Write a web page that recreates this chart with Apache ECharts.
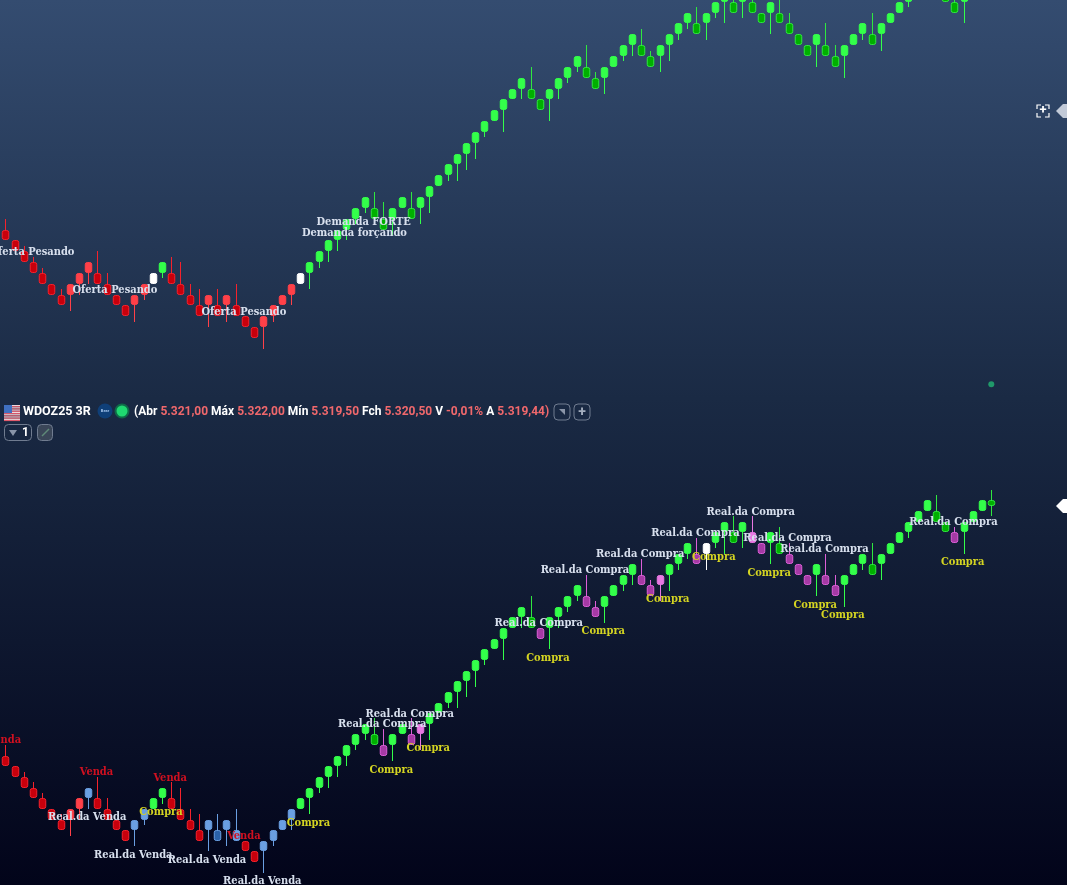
<!DOCTYPE html>
<html>
<head>
<meta charset="utf-8">
<title>WDOZ25 3R</title>
<style>
  html, body { margin: 0; padding: 0; background: #0a1228; }
  #chart { width: 1067px; height: 885px; }
</style>
<script src="https://cdn.jsdelivr.net/npm/echarts@6/dist/echarts.min.js"></script>
</head>
<body>
<div id="chart"></div>
<script>
// renko bricks, same prices drawn in both panels
const opens = [5297,5296,5295,5294,5293,5292,5291,5291,5292,5293,5293,5292,5291,5290,5290,5291,5292,5293,5293,5292,5291,5290,5290,5290,5290,5290,5289,5288,5288,5289,5290,5291,5292,5293,5294,5295,5296,5297,5298,5299,5299,5298,5298,5299,5299,5299,5300,5301,5302,5303,5304,5305,5306,5307,5308,5309,5310,5310,5309,5309,5310,5311,5312,5312,5311,5311,5312,5313,5314,5314,5313,5313,5314,5315,5316,5316,5316,5317,5318,5318,5318,5318,5317,5317,5317,5316,5315,5314,5314,5314,5313,5313,5314,5315,5315,5315,5316,5317,5318,5319,5320,5320,5319,5318,5318,5319,5320,5321];
const closes = [5296,5295,5294,5293,5292,5291,5290,5292,5293,5294,5292,5291,5290,5289,5291,5292,5293,5294,5292,5291,5290,5289,5291,5289,5291,5289,5288,5287,5289,5290,5291,5292,5293,5294,5295,5296,5297,5298,5299,5300,5298,5297,5299,5300,5298,5300,5301,5302,5303,5304,5305,5306,5307,5308,5309,5310,5311,5309,5308,5310,5311,5312,5313,5311,5310,5312,5313,5314,5315,5313,5312,5314,5315,5316,5317,5315,5317,5318,5319,5317,5319,5317,5316,5318,5316,5315,5314,5313,5315,5313,5312,5314,5315,5316,5314,5316,5317,5318,5319,5320,5321,5319,5318,5317,5319,5320,5321,5320.5];
const highs = [5298,5296,5295.5,5294.5,5293.5,5292,5291.5,5292,5293,5294,5295,5293,5291,5290,5291,5292,5293,5294,5294.5,5294,5292,5291.5,5291,5291.5,5291,5292,5289,5288,5289,5290,5291,5292,5293,5294,5295,5296,5297,5298,5299,5300,5300.5,5299.5,5299,5300,5300.5,5300,5301,5302,5303,5304,5305,5306,5307,5308,5309,5310,5311,5312,5309,5310,5311,5312,5313,5314,5311.5,5312,5313,5314,5315,5315.5,5313.5,5314,5315,5316,5317,5317.5,5317,5318,5319,5319.5,5319,5319.5,5317,5318,5318.5,5317,5315,5314,5315,5316,5314,5314,5315,5316,5317,5316,5317,5318,5319,5320,5321,5321.5,5319,5318.5,5319,5320,5321,5322];
const lows = [5296,5295,5294,5293,5292,5291,5290,5289.5,5291,5292,5292,5291,5290,5289,5288.5,5290.5,5292,5292.5,5292,5291,5290,5289,5288,5289,5288.5,5289,5288,5287,5286,5288.5,5290,5290,5292,5291.5,5293.5,5294,5295,5296,5297.5,5298.5,5298,5297,5296.5,5299,5298,5297.5,5298.5,5301,5301.5,5301.5,5302.5,5303.5,5305.5,5307,5306,5309,5309,5309,5308,5307,5309,5310.5,5311.5,5311,5310,5309.5,5312,5312.5,5313,5313,5312,5311.5,5312.5,5314.5,5315.5,5315,5314.5,5316.5,5316,5317,5316.5,5317,5316,5315,5316,5315,5314,5313,5312,5313,5312,5311,5314,5314.5,5314,5313.5,5316,5317,5317.5,5319,5320,5319,5318,5317,5316,5319,5320,5319.5];

// upper panel colouring and texts (brick numbers), the rest is plain green
const topRedDark = [0,1,2,3,4,5,6,10,11,12,13,18,19,20,21,23,25,26,27];
const topRedBright = [7,8,9,14,15,22,24,28,29,30,31];
const topWhite = [16,32];
const topGreenDark = [40,41,44,57,58,63,64,69,70,75,79,81,82,84,85,86,87,89,90,94,101,102,103,107];
const ofertaPesando = [3,12,26];
const demandaForte = [39];
const demandaForcando = [38];
const dotPrice = 5282.75;

// lower panel
const lowRedDark = [0,1,2,3,4,5,6,10,11,12,13,18,19,20,21,26,27];
const lowRedBright = [7,8];
const lowBlue = [9,14,15,22,24,25,28,29,30,31];
const lowBlueDark = [23];
const lowPurple = [41,44,58,63,64,69,70,75,82,85,86,87,89,90,103];
const lowPink = [45,71,81];
const lowWhite = [76];
const lowGreenDark = [40,57,79,84,94,101,102,107];
const venda = [0,10,18,26];
const realVenda = [9,14,22,28];
const compra = [17,33,42,46,59,65,72,77,83,88,91,104];
const realCompra = [41,44,58,63,69,75,81,85,89,103];

// header
const headerPairs = [['Abr', '5.321,00'], ['Máx', '5.322,00'], ['Mín', '5.319,50'], ['Fch', '5.320,50'], ['V', '-0,01%'], ['A', '5.319,44']];

const palette = {
  green: { fill: '#33ff4a', line: '#33ff4a' },
  greenDark: { fill: '#00b000', line: '#2fe83f' },
  redDark: { fill: '#c8000c', line: '#f5222c' },
  redBright: { fill: '#ff4048', line: '#ff4048' },
  white: { fill: '#ffffff', line: '#ffffff' },
  blue: { fill: '#6a9fe2', line: '#6a9fe2' },
  blueDark: { fill: '#2b62a8', line: '#6a9fe2' },
  purple: { fill: '#a53aa5', line: '#dd5fd8' },
  pink: { fill: '#e878e2', line: '#e878e2' }
};

const topKinds = { redDark: topRedDark, redBright: topRedBright, white: topWhite, greenDark: topGreenDark };
const lowKinds = { redDark: lowRedDark, redBright: lowRedBright, blue: lowBlue, blueDark: lowBlueDark, purple: lowPurple, pink: lowPink, white: lowWhite, greenDark: lowGreenDark };

function kindOf(kinds, i) {
  for (const k in kinds) {
    if (kinds[k].includes(i)) return k;
  }
  return 'green';
}

const bricks = opens.map((o, i) => [i, o, closes[i], lows[i], highs[i]]);

// candlestick has no rounded corners, so the bricks are a custom series
function brickRenderer(kinds) {
  return function (params, api) {
    const i = api.value(0);
    const c = palette[kindOf(kinds, i)];
    const x = Math.round(api.coord([i, api.value(1)])[0]);
    const yA = api.coord([i, api.value(1)])[1];
    const yB = api.coord([i, api.value(2)])[1];
    const top = Math.round(Math.min(yA, yB));
    const bottom = Math.round(Math.max(yA, yB));
    const hi = Math.round(api.coord([i, api.value(4)])[1]);
    const lo = Math.round(api.coord([i, api.value(3)])[1]);
    return {
      type: 'group',
      children: [
        { type: 'line', shape: { x1: x + 0.5, y1: hi, x2: x + 0.5, y2: lo }, style: { stroke: c.line, lineWidth: 1 } },
        { type: 'rect', shape: { x: x - 2.75, y: top + 0.5, width: 6.5, height: bottom - top - 1, r: 2 }, style: { fill: c.fill, stroke: c.line, lineWidth: 1 } }
      ]
    };
  };
}

function labelRows(list, text, color, side) {
  return list.map(i => ({ value: [i, side === 'above' ? highs[i] : lows[i]], text, color, side }));
}

function labelSeries(rows, gridIndex) {
  return {
    type: 'custom',
    xAxisIndex: gridIndex,
    yAxisIndex: gridIndex,
    clip: false,
    z: 5,
    silent: true,
    data: rows,
    renderItem: function (params, api) {
      const row = rows[params.dataIndex];
      const p = api.coord([api.value(0), api.value(1)]);
      return {
        type: 'text',
        style: {
          text: row.text,
          x: p[0] - 1,
          y: p[1] + (row.side === 'above' ? -4.5 : 8.7),
          fill: row.color,
          align: 'center',
          verticalAlign: 'middle',
          font: 'bold 11px "DejaVu Serif Condensed", "DejaVu Serif"'
        }
      };
    }
  };
}

const topLabels = [].concat(
  labelRows(ofertaPesando, 'Oferta Pesando', '#d8e0ee', 'above'),
  labelRows(demandaForte, 'Demanda FORTE', '#d8e0ee', 'below'),
  labelRows(demandaForcando, 'Demanda forçando', '#d8e0ee', 'below')
);
const lowLabels = [].concat(
  labelRows(venda, 'Venda', '#d01020', 'above'),
  labelRows(realVenda, 'Real.da Venda', '#d8e0ee', 'below'),
  labelRows(compra, 'Compra', '#d4d422', 'below'),
  labelRows(realCompra, 'Real.da Compra', '#d8e0ee', 'above')
);

const headerRich = { w: { fill: '#ffffff' }, r: { fill: '#f0686c' } };
const headerText = '{w|(}' + headerPairs.map(p => '{w|' + p[0] + ' }{r|' + p[1] + ' }').join('').replace(/ }$/, '}') + '{r|)}';

const flagStripes = [];
for (let s = 0; s < 7; s++) {
  flagStripes.push({ type: 'rect', shape: { x: 4, y: 405 + s * 2.3, width: 16, height: 1.15 }, style: { fill: '#f0d8dc' } });
  flagStripes.push({ type: 'rect', shape: { x: 4, y: 406.15 + s * 2.3, width: 16, height: 1.15 }, style: { fill: '#e05a6c' } });
}

const chrome = [].concat(flagStripes, [
  { type: 'rect', shape: { x: 4, y: 405, width: 8, height: 8 }, style: { fill: '#3f6fc0' } },
  { type: 'text', style: { x: 23, y: 411.5, text: 'WDOZ25 3R', fill: '#ffffff', font: 'bold 12.5px Roboto', verticalAlign: 'middle' } },
  { type: 'circle', shape: { cx: 105, cy: 411, r: 7.5 }, style: { fill: '#0f3f78' } },
  { type: 'text', style: { x: 105, y: 411, text: 'Bear', fill: '#9fc0ea', font: 'bold 4px Roboto', align: 'center', verticalAlign: 'middle' } },
  { type: 'circle', shape: { cx: 122, cy: 411, r: 6.5 }, style: { fill: '#1fd870', stroke: '#0f6a48', lineWidth: 2 } },
  { type: 'text', style: { x: 134, y: 411.5, text: headerText, rich: headerRich, font: 'bold 12px Roboto', verticalAlign: 'middle' } },
  { type: 'rect', shape: { x: 554, y: 404, width: 16, height: 16, r: 4 }, style: { fill: 'none', stroke: '#707c90', lineWidth: 1 } },
  { type: 'polygon', shape: { points: [[559, 409], [565, 409], [565, 415]] }, style: { fill: '#8a95a8' } },
  { type: 'rect', shape: { x: 574, y: 404, width: 16, height: 16, r: 4 }, style: { fill: 'none', stroke: '#707c90', lineWidth: 1 } },
  { type: 'text', style: { x: 582, y: 412, text: '+', fill: '#a4aebe', font: 'bold 14px Roboto', align: 'center', verticalAlign: 'middle' } },
  { type: 'rect', shape: { x: 4.5, y: 424.5, width: 27, height: 16, r: 4 }, style: { fill: 'none', stroke: '#707c90', lineWidth: 1 } },
  { type: 'polygon', shape: { points: [[9, 430], [17, 430], [13, 436]] }, style: { fill: '#8a95a8' } },
  { type: 'text', style: { x: 22, y: 433, text: '1', fill: '#ffffff', font: 'bold 12px Roboto', verticalAlign: 'middle' } },
  { type: 'rect', shape: { x: 37.5, y: 424.5, width: 15, height: 16, r: 4 }, style: { fill: '#3a4658', stroke: '#707c90', lineWidth: 1 } },
  { type: 'line', shape: { x1: 42, y1: 436, x2: 49, y2: 429 }, style: { stroke: '#5f8a78', lineWidth: 1.5 } },
  // focus icon and price tags on the right edge
  { type: 'polyline', shape: { points: [[1037, 109], [1037, 105], [1041, 105]] }, style: { stroke: '#ffffff', lineWidth: 1.2, fill: 'none' } },
  { type: 'polyline', shape: { points: [[1045, 105], [1049, 105], [1049, 109]] }, style: { stroke: '#ffffff', lineWidth: 1.2, fill: 'none' } },
  { type: 'polyline', shape: { points: [[1049, 113], [1049, 117], [1045, 117]] }, style: { stroke: '#ffffff', lineWidth: 1.2, fill: 'none' } },
  { type: 'polyline', shape: { points: [[1041, 117], [1037, 117], [1037, 113]] }, style: { stroke: '#ffffff', lineWidth: 1.2, fill: 'none' } },
  { type: 'text', style: { x: 1043, y: 111, text: '+', fill: '#ffffff', font: 'bold 13px Roboto', align: 'center', verticalAlign: 'middle' } },
  { type: 'polygon', shape: { points: [[1056, 111], [1063, 104], [1067, 104], [1067, 118], [1063, 118]] }, style: { fill: '#c2cad8' } },
  { type: 'polygon', shape: { points: [[1056, 506], [1063, 499], [1067, 499], [1067, 513], [1063, 513]] }, style: { fill: '#ffffff' } }
]);

const chart = echarts.init(document.getElementById('chart'));
chart.setOption({
  animation: false,
  backgroundColor: {
    type: 'linear', x: 0, y: 0, x2: 0, y2: 1,
    colorStops: [
      { offset: 0, color: '#344c70' },
      { offset: 0.45, color: '#1a2a44' },
      { offset: 1, color: '#02041a' }
    ]
  },
  grid: [
    { left: 0.7, top: 0, width: 995.2, height: 395 },
    { left: 0.7, top: 400, width: 995.2, height: 485 }
  ],
  xAxis: [
    { type: 'value', gridIndex: 0, min: -0.5, max: 107.5, show: false },
    { type: 'value', gridIndex: 1, min: -0.5, max: 107.5, show: false }
  ],
  yAxis: [
    { type: 'value', gridIndex: 0, min: 5281.75, max: 5318.16, show: false, splitLine: { show: false } },
    { type: 'value', gridIndex: 1, min: 5284.85, max: 5330.43, show: false, splitLine: { show: false } }
  ],
  series: [
    {
      type: 'custom', xAxisIndex: 0, yAxisIndex: 0, clip: true, silent: true,
      data: bricks, encode: { x: 0, y: [1, 2, 3, 4] }, renderItem: brickRenderer(topKinds)
    },
    {
      type: 'custom', xAxisIndex: 1, yAxisIndex: 1, clip: true, silent: true,
      data: bricks, encode: { x: 0, y: [1, 2, 3, 4] }, renderItem: brickRenderer(lowKinds)
    },
    labelSeries(topLabels, 0),
    labelSeries(lowLabels, 1),
    {
      type: 'scatter', xAxisIndex: 0, yAxisIndex: 0, symbolSize: 6, silent: true,
      itemStyle: { color: '#22b573' }, data: [[107, dotPrice]]
    }
  ],
  graphic: { elements: chrome }
});
window.addEventListener('resize', () => chart.resize());
</script>
</body>
</html>
